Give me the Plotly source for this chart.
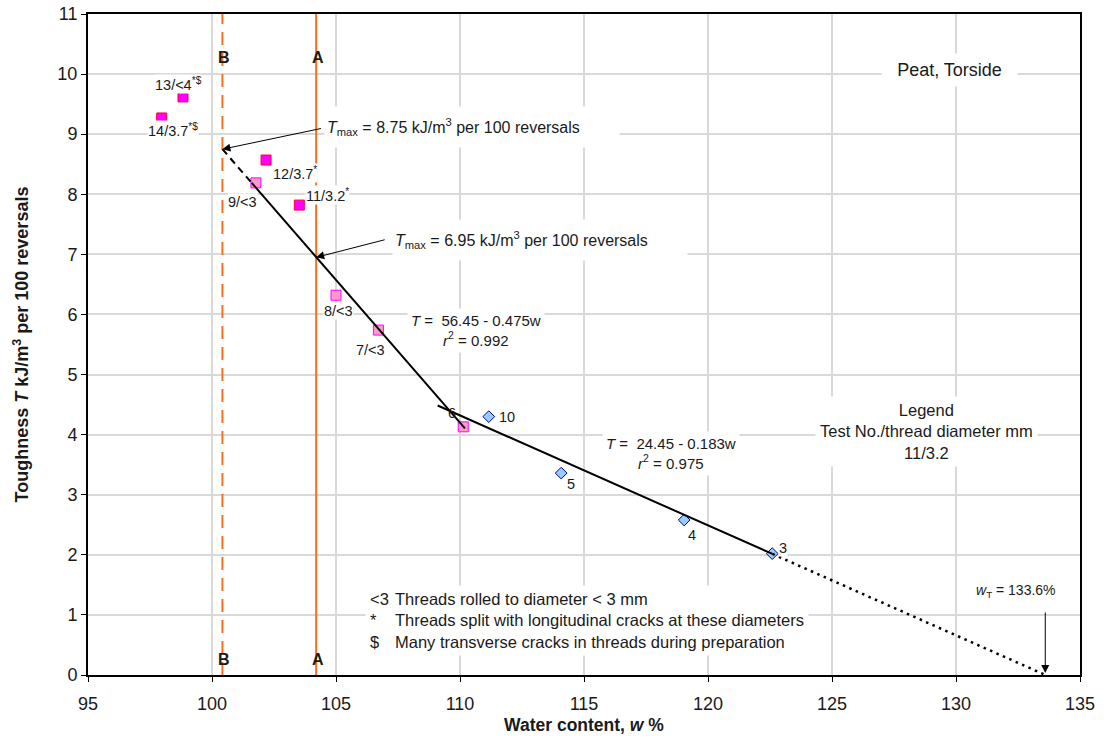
import plotly.graph_objects as go

# ---------------- data ----------------
mag_labels = ["13/&lt;4<sup>*$</sup>", "14/3.7<sup>*$</sup>", "12/3.7<sup>*</sup>", "11/3.2<sup>*</sup>"]
mag_w = [98.83, 97.97, 102.18, 103.52]
mag_T = [9.62, 9.27, 8.57, 7.82]

pink_labels = ["9/&lt;3", "8/&lt;3", "7/&lt;3", "6"]
pink_w = [101.77, 105.00, 106.71, 110.13]
pink_T = [8.19, 6.32, 5.74, 4.13]

blue_labels = ["10", "5", "4", "3"]
blue_w = [111.16, 114.08, 119.04, 122.59]
blue_T = [4.30, 3.36, 2.58, 2.02]

# regression lines T = a - b*w
fit1_a, fit1_b = 56.45, 0.475
fit2_a, fit2_b = 24.45, 0.183
fit1_dash_w = [100.42, 101.6]
fit1_solid_w = [101.6, 110.2]
fit2_solid_w = [109.1, 122.6]
fit2_dot_w = [122.6, 133.6]

line_A_w = 104.2
line_B_w = 100.42
Tmax_A = 6.95
Tmax_B = 8.75
w_T = 133.6

x_ticks = [95, 100, 105, 110, 115, 120, 125, 130, 135]
y_ticks = list(range(0, 12))

notes_sym = ["&lt;3", "*", "$"]
notes_txt = ["Threads rolled to diameter &lt; 3 mm",
             "Threads split with longitudinal cracks at these diameters",
             "Many transverse cracks in threads during preparation"]

# ---------------- style ----------------
FONT = "Liberation Sans, Arial, sans-serif"
ORANGE = "#F5711F"
TXT = "#1a1a1a"

# label offsets (pixels) per point label
mag_off = [(-4, 13), (11, -12), (29, -13), (28, 10)]
pink_off = [(-13, -19), (2, -16), (-8, -20), (-11, 14)]
blue_off = [(18, 0), (10, -11), (8, -15), (11, 6)]

fig = go.Figure()

# vertical lines
fig.add_trace(go.Scatter(x=[line_B_w, line_B_w], y=[0, 11], mode="lines",
                         line=dict(color=ORANGE, width=2, dash="13px,8px"),
                         showlegend=False, hoverinfo="skip"))
fig.add_trace(go.Scatter(x=[line_A_w, line_A_w], y=[0, 11], mode="lines",
                         line=dict(color=ORANGE, width=2),
                         showlegend=False, hoverinfo="skip"))

# markers
fig.add_trace(go.Scatter(x=mag_w, y=mag_T, mode="markers",
                         marker=dict(symbol="square", size=10, color="#FF00FF",
                                     line=dict(color="#FF0033", width=1)),
                         showlegend=False))
fig.add_trace(go.Scatter(x=pink_w, y=pink_T, mode="markers",
                         marker=dict(symbol="square", size=10, color="#FF99CC",
                                     line=dict(color="#FF00FF", width=1)),
                         showlegend=False))
fig.add_trace(go.Scatter(x=blue_w, y=blue_T, mode="markers",
                         marker=dict(symbol="diamond", size=9, color="#99CCFF",
                                     line=dict(color="#000099", width=1)),
                         showlegend=False))

def fit(a, b, ws):
    return [a - b * w for w in ws]

# regression lines
fig.add_trace(go.Scatter(x=fit1_dash_w, y=fit(fit1_a, fit1_b, fit1_dash_w), mode="lines",
                         line=dict(color="black", width=2, dash="7px,5px"),
                         showlegend=False, hoverinfo="skip"))
fig.add_trace(go.Scatter(x=fit1_solid_w, y=fit(fit1_a, fit1_b, fit1_solid_w), mode="lines",
                         line=dict(color="black", width=2),
                         showlegend=False, hoverinfo="skip"))
fig.add_trace(go.Scatter(x=fit2_solid_w, y=fit(fit2_a, fit2_b, fit2_solid_w), mode="lines",
                         line=dict(color="black", width=2),
                         showlegend=False, hoverinfo="skip"))
fig.add_trace(go.Scatter(x=fit2_dot_w, y=fit(fit2_a, fit2_b, fit2_dot_w), mode="lines",
                         line=dict(color="black", width=2.5, dash="2.5px,4.5px"),
                         showlegend=False, hoverinfo="skip"))

ann = []
def lab(x, y, text, dx, dy, bg):
    d = dict(x=x, y=y, text=text, showarrow=False, xshift=dx, yshift=dy, borderpad=0,
             font=dict(family=FONT, size=14.5, color=TXT))
    if bg:
        d["bgcolor"] = "white"
    ann.append(d)

for ws, Ts, ls, offs in [(mag_w, mag_T, mag_labels, mag_off),
                         (pink_w, pink_T, pink_labels, pink_off),
                         (blue_w, blue_T, blue_labels, blue_off)]:
    for w, T, l, (dx, dy) in zip(ws, Ts, ls, offs):
        lab(w, T, l, dx, dy, l != "6")

# Tmax texts (boxes) and arrows
ann.append(dict(x=104.52, y=9.12, xanchor="left", showarrow=False,
                text="<i>T</i><sub>max</sub> = 8.75 kJ/m<sup>3</sup> per 100 reversals",
                bgcolor="white", width=290, height=36, align="left", borderpad=2,
                font=dict(family=FONT, size=16, color=TXT)))
ann.append(dict(x=107.26, y=7.24, xanchor="left", showarrow=False,
                text="<i>T</i><sub>max</sub> = 6.95 kJ/m<sup>3</sup> per 100 reversals",
                bgcolor="white", width=290, height=36, align="left", borderpad=2,
                font=dict(family=FONT, size=16, color=TXT)))
ann.append(dict(x=line_B_w, y=Tmax_B, ax=100, ay=-21, showarrow=True, text="",
                arrowhead=2, arrowsize=1.6, arrowwidth=1, arrowcolor="black"))
ann.append(dict(x=line_A_w, y=Tmax_A, ax=70, ay=-18, showarrow=True, text="",
                arrowhead=2, arrowsize=1.6, arrowwidth=1, arrowcolor="black"))

# equations
ann.append(dict(x=110.65, y=5.74, showarrow=False, bgcolor="white", borderpad=3,
                text="<i>T</i> =  56.45 - 0.475w<br><i>r</i><sup>2</sup> = 0.992",
                font=dict(family=FONT, size=15, color=TXT)))
ann.append(dict(x=118.51, y=3.69, showarrow=False, bgcolor="white", borderpad=3,
                text="<i>T</i> =  24.45 - 0.183w<br><i>r</i><sup>2</sup> = 0.975",
                font=dict(family=FONT, size=15, color=TXT)))

# legend text
ann.append(dict(x=128.83, y=4.06, showarrow=False, bgcolor="white", borderpad=4,
                text="Legend<br>Test No./thread diameter mm<br>11/3.2",
                font=dict(family=FONT, size=16.5, color=TXT)))
# title text
ann.append(dict(x=129.72, y=10.07, showarrow=False, bgcolor="white",
                width=133, height=30,
                text="Peat, Torside", font=dict(family=FONT, size=18, color=TXT)))

# notes
ann.append(dict(x=107.18, y=0.915, xanchor="left", yanchor="middle", align="left",
                showarrow=False, bgcolor="white", borderpad=4,
                text="<br>".join(notes_txt), font=dict(family=FONT, size=16.5, color=TXT)))
ann.append(dict(x=106.17, y=0.915, xanchor="left", yanchor="middle", align="left",
                showarrow=False, bgcolor="white", borderpad=4,
                text="<br>".join(notes_sym), font=dict(family=FONT, size=16.5, color=TXT)))

# w_T
ann.append(dict(x=132.42, y=1.40, showarrow=False,
                text="<i>w</i><sub>T</sub> = 133.6%", font=dict(family=FONT, size=14, color=TXT)))
ann.append(dict(x=w_T, y=0, ax=0, ay=-64, showarrow=True, text="",
                arrowhead=2, arrowsize=1.6, arrowwidth=1, arrowcolor="black", standoff=2))

# A / B labels
for w, t in [(line_B_w, "B"), (line_A_w, "A")]:
    ann.append(dict(x=w, y=10.27, showarrow=False, text="<b>%s</b>" % t,
                    font=dict(family=FONT, size=16, color=TXT), xshift=2))
    ann.append(dict(x=w, y=0.25, showarrow=False, text="<b>%s</b>" % t,
                    font=dict(family=FONT, size=16, color=TXT), xshift=2))

fig.update_layout(
    width=1108, height=753,
    margin=dict(l=88, r=28, t=14, b=78),
    paper_bgcolor="white", plot_bgcolor="white",
    font=dict(family=FONT, size=18, color=TXT),
    annotations=ann,
    xaxis=dict(range=[95, 135], tickvals=x_ticks, ticks="outside", ticklen=5,
               tickcolor="black", showline=True, mirror=True, linecolor="black",
               linewidth=2, showgrid=True, gridcolor="#D9D9D9", gridwidth=1.5,
               zeroline=False, tickfont=dict(size=18), ticklabelstandoff=6,
               ticklabeloverflow="allow", automargin=False,
               title=dict(text="<b>Water content, <i>w</i> %</b>", standoff=6,
                          font=dict(size=17.5))),
    yaxis=dict(range=[0, 11], tickvals=y_ticks, ticks="outside", ticklen=5,
               tickcolor="black", showline=True, mirror=True, linecolor="black",
               linewidth=2, showgrid=True, gridcolor="#D9D9D9", gridwidth=1.5,
               zeroline=False, tickfont=dict(size=18), automargin=False,
               ticklabeloverflow="allow",
               title=dict(text="<b>Toughness <i>T</i> kJ/m<sup>3</sup> per 100 reversals</b>",
                          standoff=24, font=dict(size=18))),
)

fig.write_html("out.html", config={"displayModeBar": False},
               post_script="document.body.style.margin='0';")
